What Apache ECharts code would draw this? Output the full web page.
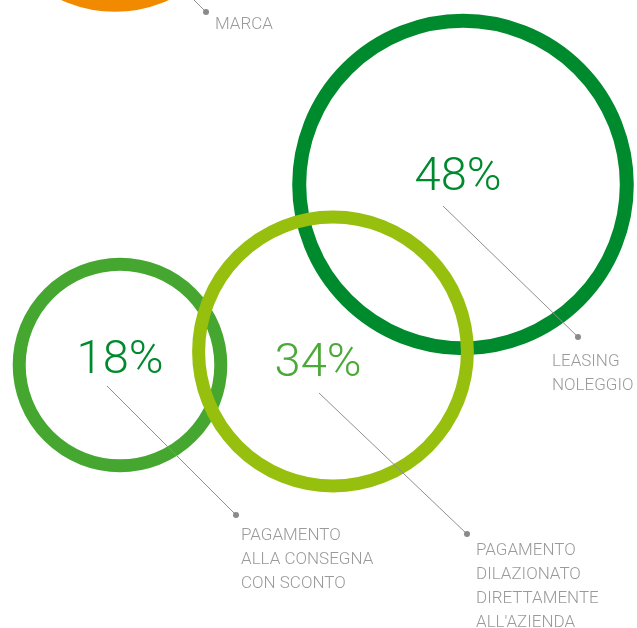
<!DOCTYPE html>
<html>
<head>
<meta charset="utf-8">
<script src="https://cdn.jsdelivr.net/npm/echarts@6/dist/echarts.min.js"></script>
<style>
  html, body { margin: 0; padding: 0; background: #fff; }
  #chart { width: 637px; height: 628px; }
</style>
</head>
<body>
<div id="chart"></div>
<script>
// dati (ordine = ordine di disegno)
var names = ['MARCA', 'LEASING\nNOLEGGIO', 'PAGAMENTO\nALLA CONSEGNA\nCON SCONTO', 'PAGAMENTO\nDILAZIONATO\nDIRETTAMENTE\nALL\'AZIENDA'];
var values = [28, 48, 18, 34];
// centro dei cerchi
var centerX = [115, 463, 120, 333];
var centerY = [-117, 184.5, 365, 351.5];
// linee di richiamo: inizio e punto finale
var leadX = [180, 443, 107, 319];
var leadY = [-14, 206, 386, 393];
var tagX = [206, 578, 236, 467];
var tagY = [12, 337, 515, 534];

// stile
var ringColors = ['#F28A00', '#008A2E', '#45A730', '#97BF0D'];
var ringWidths = [14, 14, 13, 13];
var pctColors = ['#F28A00', '#008A2E', '#008A2E', '#4BAA37'];
var pctOffsets = [[0, 0], [-5, -6], [0, -4], [-15, 13]];
var tagOffsets = [[12, 3.5], [-23, 15.5], [8, 11.5], [12, 7.5]];
var FONT = 'Roboto, sans-serif';

// diametro dal valore
function ringSize(v) {
  return 126 + 4.2 * v;
}

var chart = echarts.init(document.getElementById('chart'));

var ringData = [], leadData = [], tagData = [];
for (var i = 0; i < values.length; i++) {
  ringData.push({
    value: [centerX[i], centerY[i], values[i]],
    symbolSize: ringSize(values[i]),
    itemStyle: { color: 'rgba(0,0,0,0)', borderColor: ringColors[i], borderWidth: ringWidths[i], opacity: 1 },
    label: { color: pctColors[i], offset: pctOffsets[i] }
  });
  leadData.push({ coords: [[leadX[i], leadY[i]], [tagX[i], tagY[i]]] });
  tagData.push({
    name: names[i],
    value: [tagX[i], tagY[i]],
    label: { position: tagOffsets[i] }
  });
}

var option = {
  animation: false,
  backgroundColor: '#fff',
  grid: { left: 0, right: 0, top: 0, bottom: 0 },
  xAxis: { type: 'value', min: 0, max: 637, show: false },
  yAxis: { type: 'value', min: 0, max: 628, inverse: true, show: false },
  series: [
    {
      type: 'scatter',
      clip: false,
      silent: true,
      z: 2,
      symbol: 'circle',
      data: ringData,
      label: {
        show: true,
        position: 'inside',
        fontFamily: FONT,
        fontWeight: 300,
        fontSize: 47,
        formatter: function (p) { return p.value[2] + '%'; }
      }
    },
    {
      type: 'lines',
      coordinateSystem: 'cartesian2d',
      clip: false,
      silent: true,
      z: 3,
      lineStyle: { color: '#8f8f8f', width: 1, opacity: 1, curveness: 0 },
      data: leadData
    },
    {
      type: 'scatter',
      clip: false,
      silent: true,
      z: 4,
      symbolSize: 6,
      itemStyle: { color: '#8a8a8a', opacity: 1 },
      data: tagData,
      label: {
        show: true,
        formatter: '{b}',
        align: 'left',
        verticalAlign: 'top',
        fontFamily: FONT,
        fontWeight: 300,
        fontSize: 17,
        lineHeight: 24,
        color: '#9a9a9a'
      }
    }
  ]
};

chart.setOption(option);
</script>
</body>
</html>
